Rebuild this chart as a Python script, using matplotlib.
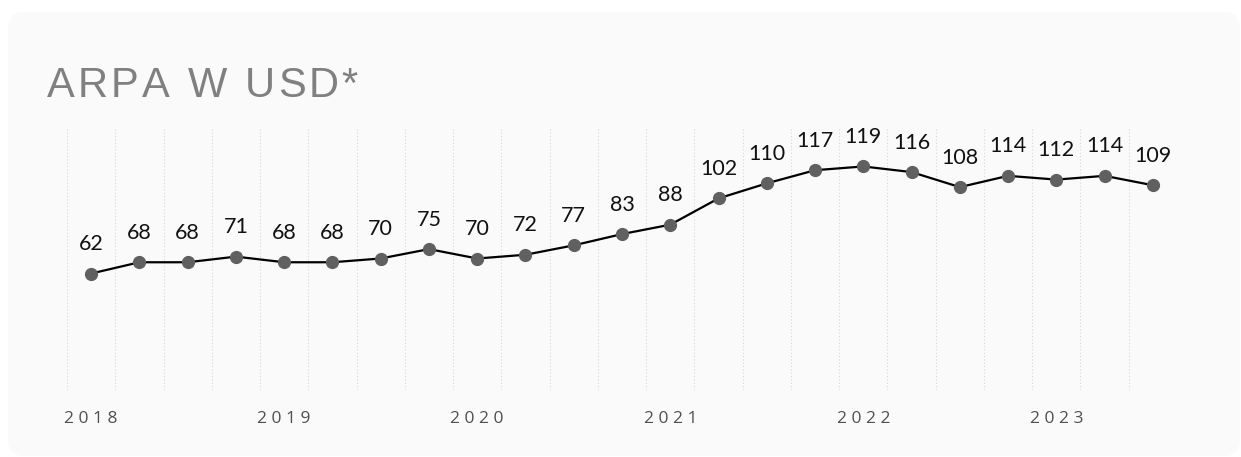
import matplotlib.pyplot as plt
from matplotlib.patches import FancyBboxPatch

# ARPA per quarter, USD
values = [62, 68, 68, 71, 68, 68, 70, 75, 70, 72, 77, 83, 88,
          102, 110, 117, 119, 116, 108, 114, 112, 114, 109]
years = ['2018', '2019', '2020', '2021', '2022', '2023']
year_pos = [0, 4, 8, 12, 16, 20]
title = 'ARPA W USD*'

W, H = 1241, 457
fig = plt.figure(figsize=(W / 100, H / 100), dpi=100)
fig.patch.set_facecolor('white')

# light card behind everything
card = FancyBboxPatch((8 / W, 1 / H), (W - 9) / W, (H - 13) / H,
                      boxstyle='round,pad=0,rounding_size=0.013',
                      transform=fig.transFigure, facecolor='#fafafa',
                      edgecolor='none', zorder=-5, mutation_aspect=W / H)
fig.patches.append(card)


def spaced_text(x_px, y_px, s, track, **kw):
    # place characters one by one to get letter spacing
    r = fig.canvas.get_renderer()
    for ch in s:
        t = fig.text(x_px / W, 1 - y_px / H, ch, va='baseline', ha='left', **kw)
        w = t.get_window_extent(renderer=r).width
        if ch == ' ':
            w = kw.get('fontsize', 10) * 100 / 72 * 0.28
        x_px += w + track


spaced_text(47, 97, title, 3.1, fontsize=30, color='#808080',
            family='Liberation Sans')

ax = fig.add_axes([67 / W, 1 - 390 / H, 1110 / W, 263 / H])
ax.set_facecolor('none')
n = len(values)
x = list(range(n))
ax.set_xlim(-0.5, n - 0.5)
ax.set_ylim(0, 140)

for b in range(n + 1):
    ax.axvline(b - 0.5, color='#d6d6d6', lw=0.8, ls=(0, (1, 2)), zorder=1)

ax.plot(x, values, color='black', lw=1.6, marker='o', markersize=8.5,
        markerfacecolor='#606060', markeredgecolor='#606060', zorder=3)

for xi, v in zip(x, values):
    ax.annotate(str(v), (xi, v), xytext=(0, 14), textcoords='offset points',
                ha='center', va='bottom', fontsize=15.5, family='Lato',
                color='#111111')

ax.set_xticks(year_pos)
ax.set_xticklabels([' '.join(y) for y in years], fontsize=12.5,
                   family='Open Sans', color='#505050')
ax.tick_params(axis='x', length=0, pad=15)
ax.set_yticks([])
for s in ax.spines.values():
    s.set_visible(False)

fig.savefig('out.png', dpi=100, facecolor='white')
